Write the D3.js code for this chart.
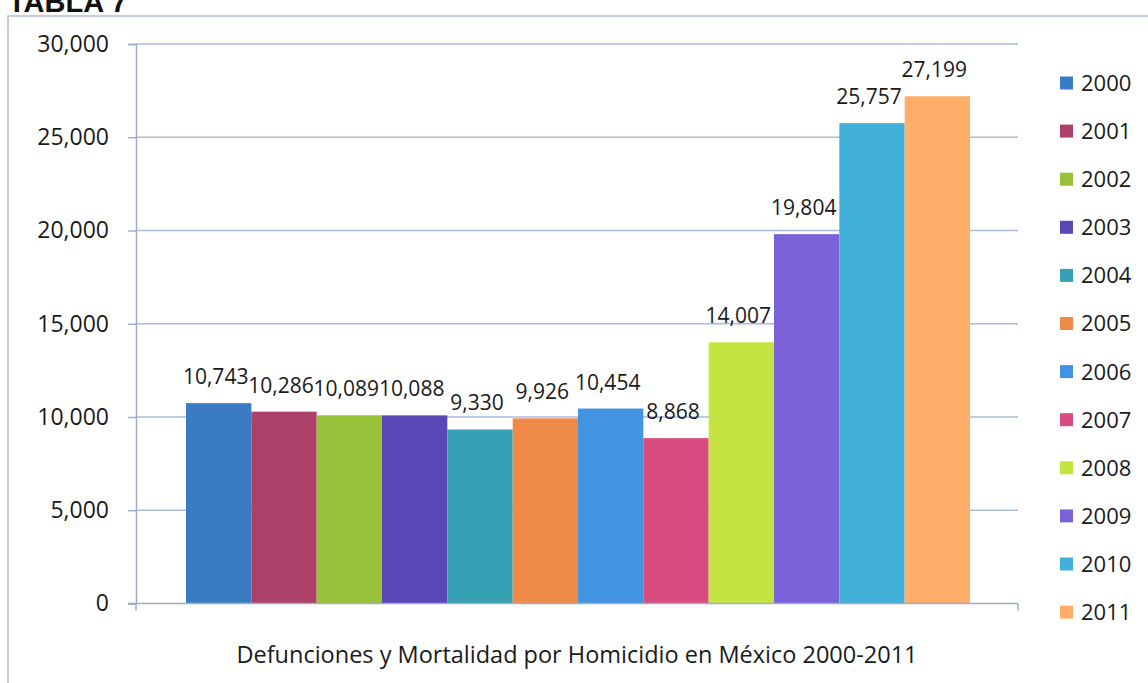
<!DOCTYPE html>
<html>
<head>
<meta charset="utf-8">
<script src="https://cdn.jsdelivr.net/npm/d3@7"></script>
<style>
  html, body { margin: 0; padding: 0; background: #fff; overflow: hidden; }
  svg { display: block; font-family: "Open Sans", sans-serif; }
</style>
</head>
<body>
<div id="chart"></div>
<script>
// datos
const anios = ['2000','2001','2002','2003','2004','2005','2006','2007','2008','2009','2010','2011'];
const defunciones = [10743, 10286, 10089, 10088, 9330, 9926, 10454, 8868, 14007, 19804, 25757, 27199];
const ticksY = [0, 5000, 10000, 15000, 20000, 25000, 30000];
const coloresBarras = ['#3a7cc4','#ad4169','#97c23a','#5a46b5','#36a0b4','#f08a48',
                       '#4294e0','#d84c80','#c6e440','#7c62d8','#40b0d8','#ffad68'];
const tituloEje = 'Defunciones y Mortalidad por Homicidio en México 2000-2011';

const ancho = 1148, alto = 683;
const area = { izq: 136, der: 1018, arriba: 44, abajo: 603.5 };

const lienzo = d3.select('#chart').append('svg')
    .attr('width', ancho).attr('height', alto);

// marco del grafico
lienzo.append('rect')
    .attr('x', 8).attr('y', 16)
    .attr('width', ancho + 20).attr('height', alto + 20)
    .attr('fill', 'none').attr('stroke', '#aebcd6').attr('stroke-width', 1.5);

// encabezado cortado en el borde superior, igual que en la imagen original
lienzo.append('text')
    .attr('x', 8).attr('y', 12)
    .style('font-family', '"Liberation Sans", Arial, sans-serif')
    .style('font-weight', 'bold').style('font-size', '29px')
    .attr('fill', '#111')
    .text('TABLA 7');

const escalaY = d3.scaleLinear().domain([0, 30000]).range([area.abajo, area.arriba]);

// una sola categoria con 12 series, separacion ~150%
const anchoBarra = (area.der - area.izq) / (anios.length + 1.5);
const escalaX = d3.scaleBand()
    .domain(anios)
    .range([area.izq + anchoBarra * 0.75 + 1, area.der - anchoBarra * 0.75 + 1])
    .padding(0);

// lineas de cuadricula
lienzo.append('g')
    .selectAll('line')
    .data(ticksY.slice(1))
    .enter().append('line')
    .attr('x1', area.izq).attr('x2', area.der)
    .attr('y1', d => escalaY(d)).attr('y2', d => escalaY(d))
    .attr('stroke', '#a9bbe0').attr('stroke-width', 1.5);

// eje Y
const ejeY = lienzo.append('g')
    .attr('transform', `translate(${area.izq},0)`)
    .call(d3.axisLeft(escalaY).tickValues(ticksY).tickSize(8).tickPadding(19)
        .tickFormat(d3.format(',')));
ejeY.select('.domain').attr('stroke', '#9eabc9').attr('stroke-width', 1.5);
ejeY.selectAll('.tick line').attr('stroke', '#9eabc9').attr('stroke-width', 1.5);
ejeY.selectAll('.tick text')
    .style('font-family', '"Open Sans", sans-serif')
    .style('font-size', '23px').attr('fill', '#1a1a1a');

// barras
lienzo.append('g')
    .selectAll('rect')
    .data(defunciones)
    .enter().append('rect')
    .attr('x', (d, i) => escalaX(anios[i]))
    .attr('y', d => escalaY(d))
    .attr('width', escalaX.bandwidth())
    .attr('height', d => escalaY(0) - escalaY(d))
    .attr('fill', (d, i) => coloresBarras[i]);

// eje X
lienzo.append('line')
    .attr('x1', area.izq - 8).attr('x2', area.der)
    .attr('y1', area.abajo).attr('y2', area.abajo)
    .attr('stroke', '#9eabc9').attr('stroke-width', 1.5);
[area.izq, area.der].forEach(x => {
    lienzo.append('line')
        .attr('x1', x).attr('x2', x)
        .attr('y1', area.abajo).attr('y2', area.abajo + 7)
        .attr('stroke', '#9eabc9').attr('stroke-width', 1.5);
});

// etiquetas de valores
lienzo.append('g')
    .selectAll('text')
    .data(defunciones)
    .enter().append('text')
    .attr('x', (d, i) => escalaX(anios[i]) + escalaX.bandwidth() / 2 - 3)
    .attr('y', d => escalaY(d) - 19)
    .attr('text-anchor', 'middle')
    .style('font-size', '21px').attr('fill', '#1a1a1a')
    .text(d => d3.format(',')(d));

// titulo del eje
lienzo.append('text')
    .attr('x', 577).attr('y', 663)
    .attr('text-anchor', 'middle')
    .style('font-size', '23.5px').attr('fill', '#1a1a1a')
    .text(tituloEje);

// leyenda
const leyenda = lienzo.append('g')
    .selectAll('g')
    .data(anios)
    .enter().append('g')
    .attr('transform', (d, i) => `translate(1060,${83 + i * 48.1})`);
leyenda.append('rect')
    .attr('x', 0).attr('y', -6.5)
    .attr('width', 13).attr('height', 13)
    .attr('fill', (d, i) => coloresBarras[i]);
leyenda.append('text')
    .attr('x', 21).attr('dy', '0.36em')
    .style('font-size', '22px').attr('fill', '#1a1a1a')
    .text(d => d);
</script>
</body>
</html>
